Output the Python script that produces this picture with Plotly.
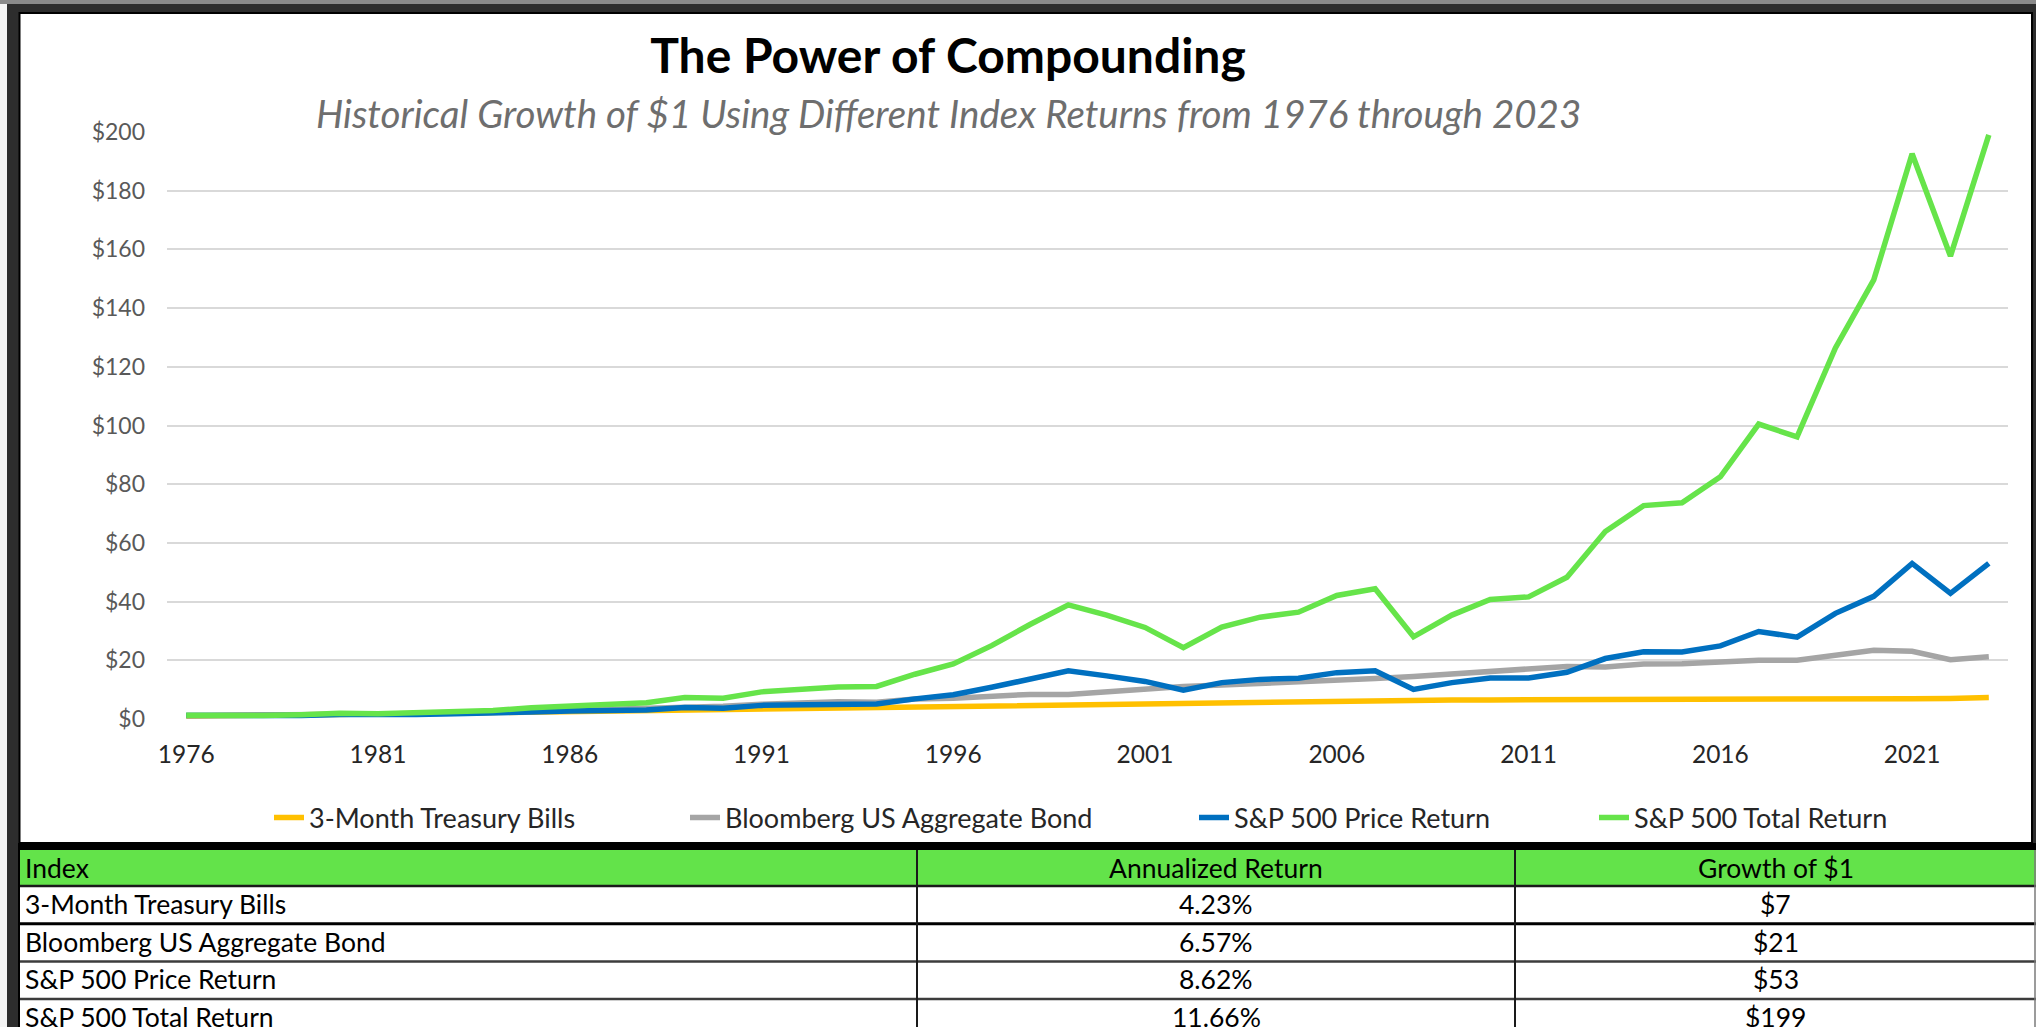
import plotly.graph_objects as go

# ---------------- data ----------------
years = list(range(1976, 2024))

tbills = [1.05, 1.10, 1.18, 1.31, 1.45, 1.67, 1.84, 2.01, 2.21, 2.38,
          2.52, 2.66, 2.83, 3.07, 3.31, 3.49, 3.62, 3.72, 3.87, 4.09,
          4.30, 4.52, 4.74, 4.96, 5.26, 5.46, 5.54, 5.60, 5.68, 5.85,
          6.13, 6.40, 6.49, 6.50, 6.51, 6.51, 6.52, 6.52, 6.52, 6.52,
          6.54, 6.60, 6.72, 6.87, 6.91, 6.92, 7.02, 7.30]

bonds = [1.16, 1.19, 1.21, 1.23, 1.27, 1.35, 1.78, 1.93, 2.22, 2.71,
         3.12, 3.21, 3.46, 3.96, 4.32, 5.01, 5.38, 5.91, 5.74, 6.80,
         7.04, 7.72, 8.39, 8.33, 9.29, 10.07, 11.11, 11.56, 12.06, 12.35,
         12.88, 13.78, 14.50, 15.36, 16.20, 17.00, 17.90, 17.70, 18.70, 18.80,
         19.30, 20.00, 20.00, 21.80, 23.40, 23.10, 20.20, 21.20]

sp_price = [1.19, 1.05, 1.07, 1.20, 1.51, 1.36, 1.56, 1.83, 1.86, 2.35,
            2.69, 2.75, 3.09, 3.93, 3.67, 4.64, 4.85, 5.19, 5.11, 6.86,
            8.25, 10.8, 13.7, 16.4, 14.7, 12.8, 9.8, 12.4, 13.5, 13.9,
            15.8, 16.4, 10.1, 12.4, 14.0, 14.0, 15.9, 20.6, 22.9, 22.8,
            24.9, 29.8, 27.9, 36.0, 41.8, 53.0, 42.8, 53.0]

sp_total = [1.24, 1.15, 1.22, 1.45, 1.92, 1.83, 2.22, 2.72, 2.89, 3.82,
            4.52, 4.76, 5.56, 7.31, 7.08, 9.24, 9.94, 10.94, 11.08, 15.25,
            18.75, 25.0, 32.2, 38.9, 35.4, 31.2, 24.3, 31.3, 34.7, 36.4,
            42.1, 44.4, 28.0, 35.4, 40.7, 41.6, 48.3, 63.9, 72.7, 73.7,
            82.5, 100.5, 96.1, 126.4, 149.6, 192.6, 157.7, 199.0]

series_names = ["3-Month Treasury Bills", "Bloomberg US Aggregate Bond",
                "S&P 500 Price Return", "S&P 500 Total Return"]
series_colors = ["#FFC000", "#A5A5A5", "#0070C0", "#66E44A"]

table_header = ["Index", "Annualized Return", "Growth of $1"]
table_index = series_names
table_annualized = ["4.23%", "6.57%", "8.62%", "11.66%"]
table_growth = ["$7", "$21", "$53", "$199"]

y_ticks = list(range(0, 201, 20))
x_ticks = list(range(1976, 2024, 5))

# ---------------- layout helpers ----------------
W, H = 2036, 1060
FONT = "Lato"


def px_x(p):
    return p / W


def px_y(p):
    return 1 - p / H


fig = go.Figure()

legend_keys = ["legend", "legend2", "legend3", "legend4"]
for name, vals, color, lg in zip(series_names,
                                 [tbills, bonds, sp_price, sp_total],
                                 series_colors, legend_keys):
    fig.add_trace(go.Scatter(x=years, y=vals, mode="lines", name=name,
                             line=dict(color=color, width=5.5),
                             legend=lg, hoverinfo="x+y+name"))

shapes = [
    # left light strip
    dict(type="rect", xref="paper", yref="paper", x0=0, x1=px_x(7),
         y0=0, y1=1, fillcolor="#f4f4f4", line_width=0, layer="below"),
    # top gray strip
    dict(type="rect", xref="paper", yref="paper", x0=0, x1=1,
         y0=px_y(4), y1=1, fillcolor="#8a8a8a", line_width=0, layer="below"),
    # chart panel
    dict(type="rect", xref="paper", yref="paper", x0=px_x(19.5), x1=px_x(2032),
         y0=px_y(843), y1=px_y(13), fillcolor="white",
         line=dict(color="black", width=2), layer="below"),
    # black band between chart and table
    dict(type="rect", xref="paper", yref="paper", x0=px_x(18), x1=1,
         y0=px_y(850), y1=px_y(843), fillcolor="black", line_width=0,
         layer="below"),
]

# ---------------- table (built from the table arrays) ----------------
col_bounds = [18, 917, 1515, 2036]
header_top, header_h, row_h = 850, 36, 37.7
table_cols = [table_index, table_annualized, table_growth]
n_rows = len(table_index)
row_tops = [header_top + header_h + i * row_h for i in range(n_rows)]

# body background and header fill
shapes.append(dict(type="rect", xref="paper", yref="paper",
                   x0=px_x(col_bounds[0]), x1=1, y0=0, y1=px_y(header_top),
                   fillcolor="white", line_width=0, layer="below"))
shapes.append(dict(type="rect", xref="paper", yref="paper",
                   x0=px_x(col_bounds[0]), x1=1,
                   y0=px_y(header_top + header_h), y1=px_y(header_top),
                   fillcolor="#63E34A", line_width=0, layer="below"))
# horizontal rules
rule_styles = [("#1a1a1a", 2.5), ("#000000", 3), ("#3c3c3c", 2.5), ("#3c3c3c", 2.5)]
for top, (rc, rw) in zip(row_tops, rule_styles):
    shapes.append(dict(type="line", xref="paper", yref="paper",
                       x0=px_x(col_bounds[0]), x1=1, y0=px_y(top), y1=px_y(top),
                       line=dict(color=rc, width=rw), layer="below"))
# vertical rules
for cb in col_bounds[1:3]:
    shapes.append(dict(type="line", xref="paper", yref="paper",
                       x0=px_x(cb), x1=px_x(cb), y0=0, y1=px_y(header_top),
                       line=dict(color="#1a1a1a", width=2), layer="below"))
shapes.append(dict(type="line", xref="paper", yref="paper",
                   x0=px_x(2035), x1=px_x(2035), y0=0, y1=px_y(header_top),
                   line=dict(color="#7a7a7a", width=1.5), layer="below"))
shapes.append(dict(type="line", xref="paper", yref="paper",
                   x0=px_x(19), x1=px_x(19), y0=0, y1=px_y(header_top),
                   line=dict(color="#000000", width=2), layer="below"))

table_font = dict(family=FONT, size=26.5, color="black")
annotations = [dict(text="<i>Historical Growth of $1 Using Different Index Returns from 1976 through 2023</i>",
                    x=px_x(948), y=px_y(113), xref="paper", yref="paper",
                    xanchor="center", yanchor="middle", showarrow=False,
                    font=dict(family=FONT, size=38.5, color="#6e6e6e"))]


def cell_x(c):
    if c == 0:
        return px_x(col_bounds[0] + 5), "left"
    return px_x((col_bounds[c] + col_bounds[c + 1]) / 2), "center"


for c, head in enumerate(table_header):
    x, anchor = cell_x(c)
    annotations.append(dict(text=head, x=x, xanchor=anchor,
                            y=px_y(header_top + header_h / 2), yanchor="middle",
                            xref="paper", yref="paper", showarrow=False,
                            font=table_font))
for c, col in enumerate(table_cols):
    x, anchor = cell_x(c)
    for r, val in enumerate(col):
        annotations.append(dict(text=val, x=x, xanchor=anchor,
                                y=px_y(row_tops[r] + row_h / 2 - 1), yanchor="middle",
                                xref="paper", yref="paper", showarrow=False,
                                font=table_font))

legend_left = [279, 695, 1204, 1604]
legends = {}
for lg, left in zip(legend_keys, legend_left):
    legends[lg] = dict(orientation="h", x=px_x(left - 10), xanchor="left",
                       y=px_y(818), yanchor="middle",
                       bgcolor="rgba(0,0,0,0)", borderwidth=0,
                       font=dict(family=FONT, size=27, color="#262626"))

fig.update_layout(
    width=W, height=H,
    margin=dict(l=0, r=0, t=0, b=0, autoexpand=False),
    paper_bgcolor="#2d2d2d",
    plot_bgcolor="rgba(0,0,0,0)",
    font=dict(family=FONT),
    title=dict(text="<b>The Power of Compounding</b>",
               x=px_x(948), xref="container", xanchor="center",
               y=px_y(56), yref="container", yanchor="middle",
               font=dict(family=FONT, size=48, color="black")),
    annotations=annotations,
    xaxis=dict(domain=[px_x(167), px_x(2008)],
               range=[1975.5, 2023.5], tickmode="array",
               tickvals=x_ticks, ticktext=[str(v) for v in x_ticks],
               showgrid=False, zeroline=False, showline=False, ticks="",
               ticklabelstandoff=18, automargin=False,
               tickfont=dict(family=FONT, size=24.5, color="#262626")),
    yaxis=dict(domain=[px_y(719), px_y(132)],
               range=[0, 200], tickmode="array", tickvals=y_ticks,
               ticktext=["$" + str(v) for v in y_ticks],
               showgrid=True, gridcolor="#d9d9d9", gridwidth=1.5,
               zeroline=False, showline=False, ticks="",
               ticklabelstandoff=21, automargin=False,
               tickfont=dict(family=FONT, size=23, color="#595959")),
    shapes=shapes,
    showlegend=True,
    **legends,
)

fig.write_html("out.html",
               config={"displayModeBar": False},
               post_script="document.body.style.margin='0';"
                           "document.body.style.overflow='hidden';"
                           "document.documentElement.style.overflow='hidden';")
